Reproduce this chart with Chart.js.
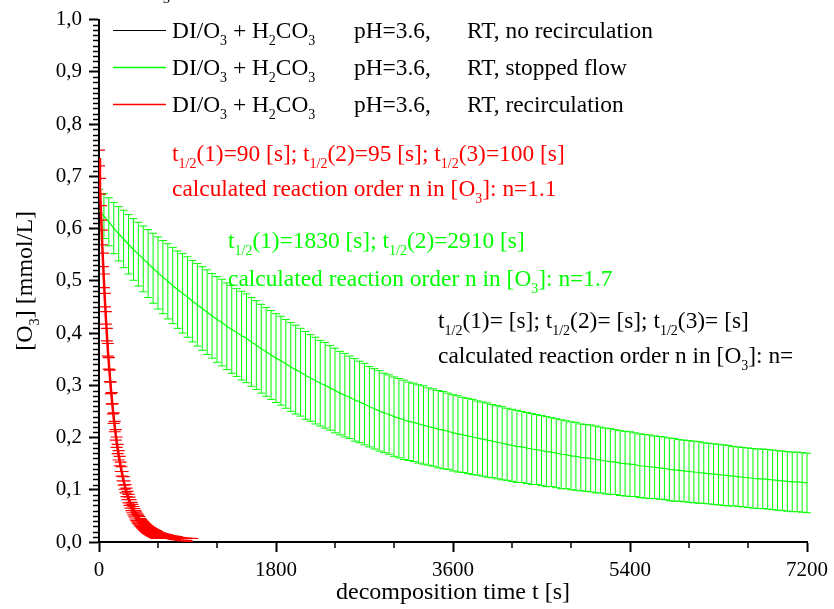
<!DOCTYPE html>
<html>
<head>
<meta charset="utf-8">
<script src="https://cdn.jsdelivr.net/npm/chart.js@4.4.1/dist/chart.umd.min.js"></script>
<style>
  html, body { margin: 0; padding: 0; background: #ffffff; }
  canvas { display: block; }
</style>
</head>
<body>
<canvas id="chart" width="834" height="609" style="width:834px;height:609px"></canvas>
<script>
// ---- series text (legend) ----
const SERIES_NAMES = ['DI/O_{3} + H_{2}CO_{3}', 'DI/O_{3} + H_{2}CO_{3}', 'DI/O_{3} + H_{2}CO_{3}'];
const SERIES_PH = ['pH=3.6,', 'pH=3.6,', 'pH=3.6,'];
const SERIES_MODE = ['RT, no recirculation', 'RT, stopped flow', 'RT, recirculation'];
const SERIES_COLORS = ['#000000', '#00ff00', '#ff0000'];

// ---- axes ----
const X_TICKS = [0, 1800, 3600, 5400, 7200];
const X_MINOR_STEP = 600;
const Y_TICKS = [0, 0.1, 0.2, 0.3, 0.4, 0.5, 0.6, 0.7, 0.8, 0.9, 1.0];
const Y_MINOR_PER_MAJOR = 10;
const X_TITLE = 'decomposition time t [s]';
const Y_TITLE = '[O_{3}] [mmol/L]';

// ---- no recirculation (black): no measured points ----
const BLACK_MEAN = [];
const BLACK_ERR = [];

// ---- stopped flow (green): mean and half error, one sample every 50 s from 0 s ----
const GREEN_STEP_S = 50;
const GREEN_MEAN = [
  0.635,0.624,0.613,0.601,0.590,0.580,0.570,0.560,0.551,0.542,
  0.533,0.524,0.515,0.507,0.499,0.491,0.483,0.476,0.469,0.461,
  0.454,0.447,0.440,0.433,0.426,0.420,0.413,0.407,0.401,0.395,
  0.390,0.383,0.377,0.370,0.364,0.358,0.352,0.347,0.341,0.335,
  0.330,0.325,0.319,0.314,0.309,0.304,0.300,0.295,0.290,0.285,
  0.281,0.277,0.272,0.268,0.264,0.259,0.255,0.251,0.247,0.244,
  0.240,0.237,0.234,0.231,0.229,0.226,0.224,0.221,0.219,0.216,
  0.214,0.212,0.209,0.207,0.205,0.203,0.201,0.199,0.197,0.195,
  0.193,0.191,0.189,0.187,0.185,0.183,0.182,0.180,0.178,0.177,
  0.175,0.173,0.172,0.170,0.168,0.167,0.165,0.164,0.162,0.161,
  0.160,0.158,0.157,0.155,0.154,0.153,0.151,0.150,0.149,0.148,
  0.146,0.145,0.144,0.143,0.142,0.141,0.139,0.138,0.137,0.136,
  0.135,0.134,0.133,0.132,0.131,0.130,0.129,0.128,0.127,0.126,
  0.125,0.124,0.123,0.122,0.121,0.121,0.120,0.119,0.118,0.117,
  0.116,0.115,0.115,0.114,0.113
];
const GREEN_ERR = [
  0.040,0.043,0.046,0.049,0.052,0.055,0.057,0.059,0.061,0.063,
  0.065,0.067,0.069,0.070,0.072,0.073,0.074,0.076,0.077,0.078,
  0.079,0.080,0.081,0.081,0.082,0.083,0.083,0.084,0.084,0.085,
  0.085,0.085,0.085,0.085,0.085,0.085,0.085,0.085,0.085,0.085,
  0.085,0.084,0.084,0.083,0.083,0.082,0.082,0.081,0.081,0.080,
  0.080,0.079,0.079,0.078,0.078,0.077,0.077,0.077,0.076,0.076,
  0.076,0.076,0.076,0.075,0.075,0.075,0.075,0.074,0.074,0.074,
  0.074,0.073,0.073,0.073,0.072,0.072,0.072,0.071,0.071,0.071,
  0.070,0.070,0.070,0.069,0.069,0.069,0.068,0.068,0.068,0.067,
  0.067,0.067,0.066,0.066,0.066,0.065,0.065,0.065,0.064,0.064,
  0.064,0.064,0.063,0.063,0.063,0.062,0.062,0.062,0.062,0.061,
  0.061,0.061,0.061,0.060,0.060,0.060,0.060,0.060,0.059,0.059,
  0.059,0.059,0.059,0.058,0.058,0.058,0.058,0.058,0.058,0.057,
  0.057,0.057,0.057,0.057,0.057,0.057,0.057,0.057,0.057,0.057,
  0.057,0.057,0.057,0.057,0.057
];

// ---- recirculation (red): mean and half error, one sample every 10 s from 0 s ----
const RED_STEP_S = 10;
const RED_MEAN = [
  0.735,0.681,0.630,0.583,0.540,0.500,0.463,0.429,0.397,0.368,
  0.342,0.318,0.295,0.275,0.255,0.237,0.221,0.205,0.191,0.178,
  0.166,0.155,0.144,0.135,0.126,0.117,0.109,0.102,0.095,0.089,
  0.083,0.078,0.073,0.068,0.064,0.060,0.056,0.052,0.049,0.046,
  0.0431,0.0405,0.0380,0.0357,0.0335,0.0315,0.0295,0.0277,0.0260,0.0244,
  0.0229,0.0216,0.0204,0.0192,0.0181,0.0171,0.0161,0.0152,0.0143,0.0135,
  0.0127,0.0120,0.0113,0.0107,0.0101,0.0095,0.0090,0.0085,0.0080,0.0075,
  0.0071,0.0067,0.0063,0.0059,0.0056,0.0053,0.0050,0.0047,0.0044,0.0042,
  0.0039,0.0037,0.0035,0.0033,0.0031,0.0029,0.0028,0.0026,0.0025,0.0023,
  0.0022,0.0021,0.0020,0.0018,0.0017,0.0016
];
const RED_ERR = [
  0.015,0.015,0.014,0.014,0.013,0.013,0.013,0.012,0.012,0.012,
  0.011,0.011,0.011,0.011,0.010,0.010,0.010,0.010,0.010,0.009,
  0.009,0.009,0.009,0.009,0.009,0.008,0.008,0.008,0.008,0.008,
  0.008,0.008,0.008,0.008,0.008,0.008,0.008,0.008,0.008,0.008,
  0.008,0.008,0.007,0.007,0.007,0.007,0.007,0.007,0.007,0.007,
  0.007,0.007,0.007,0.007,0.007,0.007,0.007,0.007,0.007,0.007,
  0.006,0.006,0.006,0.006,0.006,0.006,0.006,0.006,0.006,0.006,
  0.006,0.006,0.006,0.006,0.006,0.006,0.006,0.006,0.006,0.006,
  0.005,0.005,0.005,0.005,0.005,0.005,0.005,0.005,0.005,0.005,
  0.005,0.005,0.005,0.005,0.005,0.005
];

// ---- half-life notes, one block per series ----
const NOTES_RED = ['t_{1/2}(1)=90 [s]; t_{1/2}(2)=95 [s]; t_{1/2}(3)=100 [s]', 'calculated reaction order n in [O_{3}]: n=1.1'];
const NOTES_GREEN = ['t_{1/2}(1)=1830 [s]; t_{1/2}(2)=2910 [s]', 'calculated reaction order n in [O_{3}]: n=1.7'];
const NOTES_BLACK = ['t_{1/2}(1)= [s]; t_{1/2}(2)= [s]; t_{1/2}(3)= [s]', 'calculated reaction order n in [O_{3}]: n='];

// ---------------------------------------------------------------
const FAMILY = '"Liberation Serif", "Times New Roman", serif';
const TEXT_PX = 23.4;
const SUB_PX = 14;
const SUB_DROP = 7;

function toPoints(mean, step) {
  return mean.map((v, i) => ({ x: i * step, y: v }));
}

// splits "_{...}" subscript runs out of a label
function richParts(str) {
  const parts = [];
  const re = /_\{([^}]*)\}/g;
  let last = 0, m;
  while ((m = re.exec(str)) !== null) {
    if (m.index > last) parts.push([str.slice(last, m.index), false]);
    parts.push([m[1], true]);
    last = re.lastIndex;
  }
  if (last < str.length) parts.push([str.slice(last), false]);
  return parts;
}
function drawRich(ctx, str, x, y, color, size) {
  const subSize = size * SUB_PX / TEXT_PX;
  ctx.fillStyle = color;
  ctx.textBaseline = 'alphabetic';
  ctx.textAlign = 'left';
  let cx = x;
  for (const [t, sub] of richParts(str)) {
    ctx.font = (sub ? subSize : size) + 'px ' + FAMILY;
    ctx.fillText(t, cx, sub ? y + SUB_DROP * size / TEXT_PX : y);
    cx += ctx.measureText(t).width;
  }
  return cx;
}
function richWidth(ctx, str, size) {
  const subSize = size * SUB_PX / TEXT_PX;
  let w = 0;
  for (const [t, sub] of richParts(str)) {
    ctx.font = (sub ? subSize : size) + 'px ' + FAMILY;
    w += ctx.measureText(t).width;
  }
  return w;
}

// vertical error bars with caps, drawn right after their own line
const errorBars = {
  id: 'errorBars',
  afterDatasetDraw(chart, args) {
    const ds = chart.data.datasets[args.index];
    if (!ds.errors || !ds.data.length) return;
    const { ctx, chartArea: a } = chart;
    const xs = chart.scales.x, ys = chart.scales.y;
    const cap = ds.capHalfWidth;
    ctx.save();
    ctx.beginPath();
    ctx.rect(a.left + 1, a.top - 3, a.right - a.left + 8, a.bottom - a.top);
    ctx.clip();
    ctx.strokeStyle = ds.borderColor;
    ctx.lineWidth = ds.barWidth;
    ctx.beginPath();
    ds.data.forEach((p, i) => {
      const e = ds.errors[i];
      const px = xs.getPixelForValue(p.x);
      const y1 = ys.getPixelForValue(p.y + e);
      const y2 = ys.getPixelForValue(p.y - e);
      ctx.moveTo(px, y1); ctx.lineTo(px, y2);
      ctx.moveTo(px - cap, y1); ctx.lineTo(px + cap, y1);
      ctx.moveTo(px - cap, y2); ctx.lineTo(px + cap, y2);
    });
    ctx.stroke();
    ctx.restore();
  }
};

// minor ticks, y-axis title, legend and notes
const decorations = {
  id: 'decorations',
  afterDraw(chart) {
    const { ctx, chartArea: a } = chart;
    const xs = chart.scales.x, ys = chart.scales.y;
    ctx.save();

    // minor ticks
    ctx.strokeStyle = '#000';
    ctx.lineWidth = 1.5;
    ctx.beginPath();
    const xMax = X_TICKS[X_TICKS.length - 1];
    for (let v = 0; v <= xMax; v += X_MINOR_STEP) {
      if (X_TICKS.includes(v)) continue;
      const px = Math.round(xs.getPixelForValue(v));
      ctx.moveTo(px, a.bottom); ctx.lineTo(px, a.bottom + 6);
    }
    const yMajor = Y_TICKS[1] - Y_TICKS[0];
    const nMinor = (Y_TICKS.length - 1) * Y_MINOR_PER_MAJOR;
    for (let k = 0; k <= nMinor; k++) {
      if (k % Y_MINOR_PER_MAJOR === 0) continue;
      const py = Math.round(ys.getPixelForValue(k * yMajor / Y_MINOR_PER_MAJOR)) + 0.5;
      ctx.moveTo(a.left, py); ctx.lineTo(a.left - 6, py);
    }
    ctx.stroke();

    // y-axis title, rotated
    ctx.save();
    const yc = (a.top + a.bottom) / 2;
    ctx.translate(32, yc);
    ctx.rotate(-Math.PI / 2);
    const tw = richWidth(ctx, Y_TITLE, 24);
    drawRich(ctx, Y_TITLE, -tw / 2, 0, '#000', 24);
    ctx.restore();

    // legend
    const rows = [30, 67, 104];
    rows.forEach((ly, i) => {
      ctx.strokeStyle = SERIES_COLORS[i];
      ctx.lineWidth = i === 0 ? 1 : 1.5;
      ctx.beginPath();
      ctx.moveTo(113, ly + 0.5); ctx.lineTo(166, ly + 0.5);
      ctx.stroke();
      drawRich(ctx, SERIES_NAMES[i], 172, ly + 8, '#000', TEXT_PX);
      drawRich(ctx, SERIES_PH[i], 354, ly + 8, '#000', TEXT_PX);
      drawRich(ctx, SERIES_MODE[i], 467, ly + 8, '#000', TEXT_PX);
    });

    // notes
    drawRich(ctx, NOTES_RED[0], 172, 161, SERIES_COLORS[2], TEXT_PX);
    drawRich(ctx, NOTES_RED[1], 172, 196, SERIES_COLORS[2], TEXT_PX);
    drawRich(ctx, NOTES_GREEN[0], 228, 248, SERIES_COLORS[1], TEXT_PX);
    drawRich(ctx, NOTES_GREEN[1], 228, 286, SERIES_COLORS[1], TEXT_PX);
    drawRich(ctx, NOTES_BLACK[0], 438, 328, SERIES_COLORS[0], TEXT_PX);
    drawRich(ctx, NOTES_BLACK[1], 438, 363, SERIES_COLORS[0], TEXT_PX);

    // subscript left over from a heading above the frame
    ctx.font = SUB_PX + 'px ' + FAMILY;
    ctx.fillStyle = '#000';
    ctx.fillText('3', 163, 3);

    ctx.restore();
  }
};

const tickFont = { family: FAMILY, size: 21 };

new Chart(document.getElementById('chart'), {
  type: 'scatter',
  data: {
    datasets: [
      { label: SERIES_MODE[0], data: toPoints(BLACK_MEAN, GREEN_STEP_S), errors: BLACK_ERR,
        capHalfWidth: 4, barWidth: 1,
        borderColor: SERIES_COLORS[0], borderWidth: 1, showLine: true, pointRadius: 0, order: 0 },
      { label: SERIES_MODE[1], data: toPoints(GREEN_MEAN, GREEN_STEP_S), errors: GREEN_ERR,
        capHalfWidth: 4, barWidth: 1,
        borderColor: SERIES_COLORS[1], borderWidth: 1.2, showLine: true, pointRadius: 0, order: 2 },
      { label: SERIES_MODE[2], data: toPoints(RED_MEAN, RED_STEP_S), errors: RED_ERR,
        capHalfWidth: 6, barWidth: 1.2,
        borderColor: SERIES_COLORS[2], borderWidth: 2.5, showLine: true, pointRadius: 0, order: 1 }
    ]
  },
  options: {
    responsive: false,
    animation: false,
    layout: { padding: { left: 0, right: 23, top: 19, bottom: 0 } },
    plugins: { legend: { display: false }, tooltip: { enabled: false } },
    scales: {
      x: {
        type: 'linear',
        min: X_TICKS[0], max: X_TICKS[X_TICKS.length - 1],
        afterBuildTicks(s) { s.ticks = X_TICKS.map(v => ({ value: v })); },
        ticks: { font: tickFont, color: '#000', padding: 6, maxRotation: 0,
                 callback: v => String(v) },
        grid: { drawOnChartArea: false, tickLength: 10, tickWidth: 2, color: '#000' },
        border: { display: true, color: '#000', width: 2 },
        title: { display: true, text: X_TITLE, color: '#000',
                 font: { family: FAMILY, size: 24 }, padding: { top: 0, bottom: 2 } },
        afterFit(s) { s.height = 609 - 542; }
      },
      y: {
        type: 'linear',
        min: Y_TICKS[0], max: Y_TICKS[Y_TICKS.length - 1],
        afterBuildTicks(s) { s.ticks = Y_TICKS.map(v => ({ value: v })); },
        ticks: { font: tickFont, color: '#000', padding: 7,
                 callback: v => Number(v).toFixed(1).replace('.', ',') },
        grid: { drawOnChartArea: false, tickLength: 10, tickWidth: 2, color: '#000' },
        border: { display: true, color: '#000', width: 2 },
        title: { display: false },
        afterFit(s) { s.width = 99; }
      }
    }
  },
  plugins: [errorBars, decorations]
});
</script>
</body>
</html>
